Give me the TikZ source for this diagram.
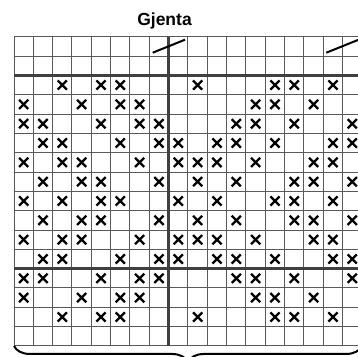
\documentclass[tikz,border=0pt]{standalone}
\usepackage{fontspec}
\setmainfont{Liberation Sans}
\usetikzlibrary{decorations.pathreplacing}
\tikzset{
  gridthin/.style={draw=black!65, line width=1pt},
  gridthick/.style={draw=black!75, line width=2.4pt},
  xmark/.style={draw=black, line width=2.3pt},
  slashmark/.style={draw=black, line width=2pt},
  bracemark/.style={draw=black, line width=2pt, decorate,
    decoration={brace, amplitude=16pt}},
}
\begin{document}
\begin{tikzpicture}[x=1pt,y=-1pt]
\useasboundingbox (0,0) rectangle (358,356);
\clip (0,0) rectangle (358,356);
\def\ox{14}\def\oy{36.7}\def\cs{19.33}
% title
\node[font=\fontsize{17.5}{20}\selectfont\bfseries, anchor=base] (title) at (164.5,25.5) {Gjenta};
% thin grid lines
\foreach \i in {0,...,18} {
  \pgfmathsetmacro{\xx}{\ox+\i*\cs}
  \draw[gridthin] (\xx,\oy) -- (\xx,\oy+16*\cs);
}
\foreach \j in {0,...,16} {
  \pgfmathsetmacro{\yy}{\oy+\j*\cs}
  \draw[gridthin] (\ox,\yy) -- (\ox+18*\cs,\yy);
}
% thick lines
\draw[gridthick] (\ox+8*\cs,\oy) -- (\ox+8*\cs,\oy+16*\cs);
\draw[gridthick] (\ox,\oy+2*\cs) -- (\ox+18*\cs,\oy+2*\cs);
\draw[gridthick] (\ox,\oy+12*\cs) -- (\ox+18*\cs,\oy+12*\cs);
% crosses
\foreach \r/\cols in {
  2/{2,4,5,9,13,14,16},
  3/{0,3,5,6,12,13,15},
  4/{0,1,4,6,7,11,12,14,17},
  5/{1,2,5,7,8,10,11,13,16,17},
  6/{0,2,3,6,8,9,10,12,15,16},
  7/{1,3,4,7,9,11,14,15,17},
  8/{0,2,4,5,8,10,13,14,16},
  9/{1,3,4,7,9,11,14,15,17},
  10/{0,2,3,6,8,9,10,12,15,16},
  11/{1,2,5,7,8,10,11,13,16,17},
  12/{0,1,4,6,7,11,12,14,17},
  13/{0,3,5,6,12,13,15},
  14/{2,4,5,9,13,14,16}} {
  \foreach \c in \cols {
    \pgfmathsetmacro{\cx}{\ox+(\c+0.5)*\cs}
    \pgfmathsetmacro{\cy}{\oy+(\r+0.5)*\cs}
    \draw[xmark] (\cx-4.6,\cy-4.6) -- (\cx+4.6,\cy+4.6)
                 (\cx-4.6,\cy+4.6) -- (\cx+4.6,\cy-4.6);
  }
}
% repeat slashes
\draw[slashmark] (152.7,52.7) -- (185,39.7);
\draw[slashmark] (326.3,52.7) -- (358.6,39.7);
% brace
\coordinate (bl) at (\ox,\oy+16*\cs);
\coordinate (br) at (\ox+18*\cs,\oy+16*\cs);
\draw[bracemark] (br) -- (bl);
\end{tikzpicture}
\end{document}
